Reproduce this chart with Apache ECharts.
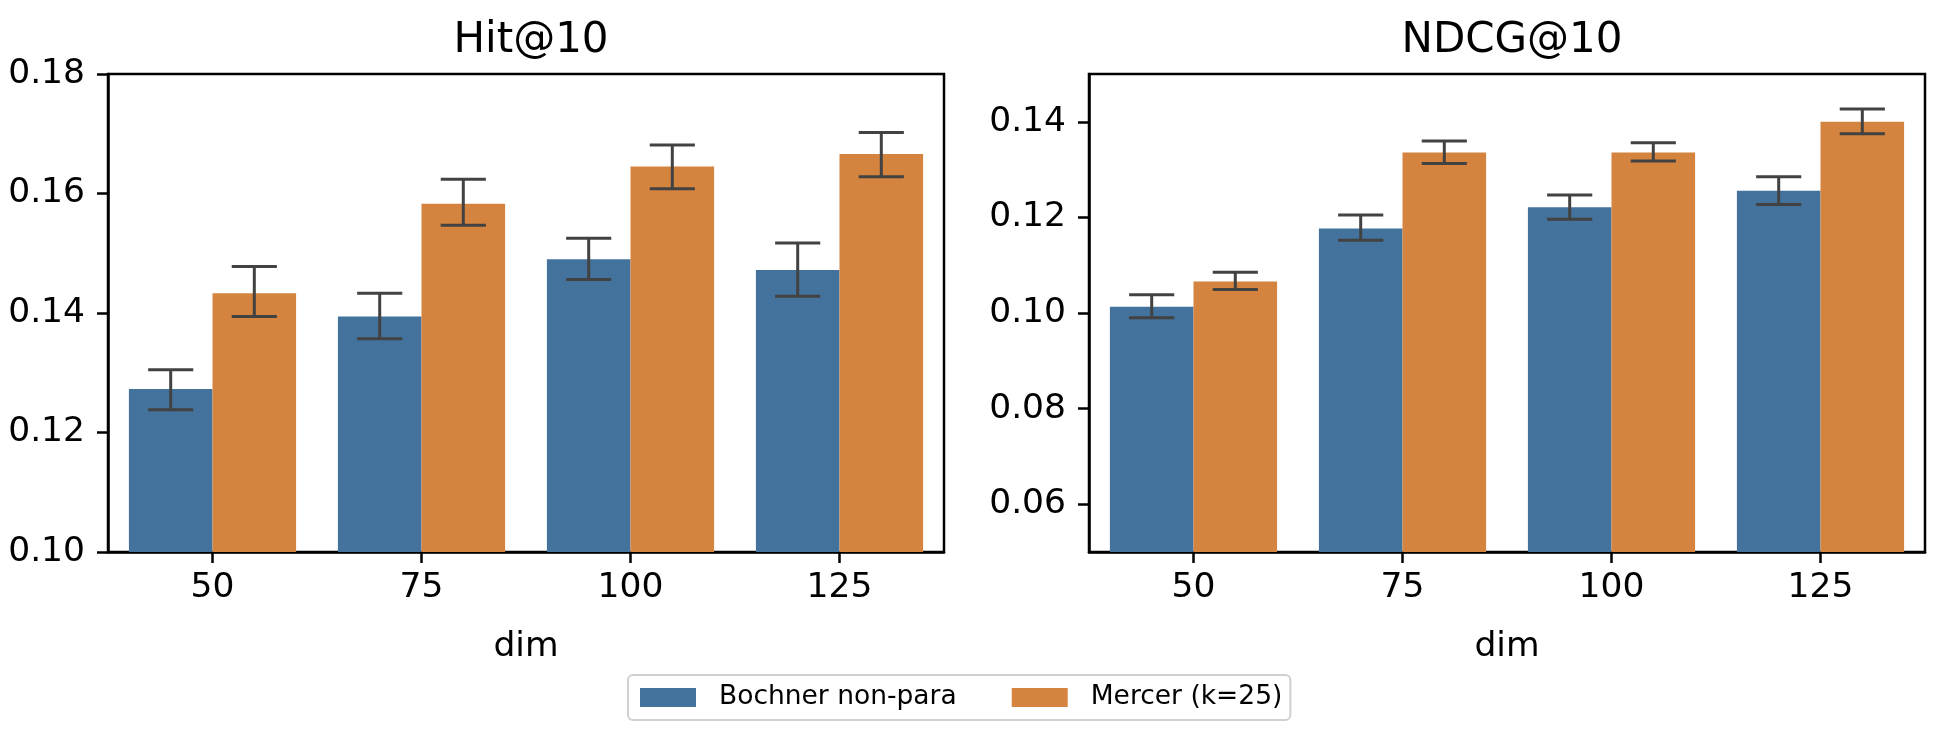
<!DOCTYPE html>
<html>
<head>
<meta charset="utf-8">
<script src="https://cdn.jsdelivr.net/npm/echarts@6/dist/echarts.min.js"></script>
<style>
  html, body { margin: 0; padding: 0; background: #fff; }
  #main { width: 1954px; height: 740px; }
</style>
</head>
<body>
<div id="main"></div>
<script>
// 数据
var dims = ['50', '75', '100', '125'];
var seriesNames = ['Bochner non-para', 'Mercer (k=25)'];

// Hit@10
var hitBochner   = [0.1273, 0.1394, 0.1490, 0.1472];
var hitBochnerLo = [0.1238, 0.1357, 0.1456, 0.1428];
var hitBochnerHi = [0.1305, 0.1433, 0.1525, 0.1517];
var hitMercer    = [0.1433, 0.1583, 0.1645, 0.1666];
var hitMercerLo  = [0.1394, 0.1547, 0.1608, 0.1628];
var hitMercerHi  = [0.1478, 0.1624, 0.1681, 0.1702];
var hitTicks = [0.10, 0.12, 0.14, 0.16, 0.18];

// NDCG@10
var ndcgBochner   = [0.1013, 0.1177, 0.1221, 0.1256];
var ndcgBochnerLo = [0.0990, 0.1152, 0.1196, 0.1227];
var ndcgBochnerHi = [0.1038, 0.1205, 0.1247, 0.1285];
var ndcgMercer    = [0.1066, 0.1336, 0.1336, 0.1400];
var ndcgMercerLo  = [0.1049, 0.1313, 0.1318, 0.1375];
var ndcgMercerHi  = [0.1085, 0.1360, 0.1356, 0.1427];
var ndcgTicks = [0.06, 0.08, 0.10, 0.12, 0.14];

var colors = ['#43729d', '#d4843f'];
var FONT = 'DejaVu Sans';
var TICK_SIZE = 34.5;

function errData(lo, hi) {
    var out = [];
    for (var i = 0; i < lo.length; i++) {
        out.push([i, lo[i], hi[i]]);
    }
    return out;
}

// 误差线: side = -1 左柱, 1 右柱
function errRender(side) {
    return function (params, api) {
        var band = api.size([1, 0])[0];
        var c = api.value(0);
        var pLo = api.coord([c, api.value(1)]);
        var pHi = api.coord([c, api.value(2)]);
        var x = pLo[0] + side * band * 0.2;
        var cap = band * 0.108;
        var style = { stroke: '#424242', lineWidth: 3 };
        return {
            type: 'group',
            children: [
                { type: 'line', shape: { x1: x, y1: pLo[1], x2: x, y2: pHi[1] }, style: style },
                { type: 'line', shape: { x1: x - cap, y1: pLo[1], x2: x + cap, y2: pLo[1] }, style: style },
                { type: 'line', shape: { x1: x - cap, y1: pHi[1], x2: x + cap, y2: pHi[1] }, style: style }
            ]
        };
    };
}

function xAx(idx) {
    return {
        type: 'category', gridIndex: idx, data: dims,
        name: 'dim', nameLocation: 'middle', nameGap: 78,
        nameTextStyle: { fontFamily: FONT, fontSize: TICK_SIZE, color: '#000' },
        axisLine: { show: true, lineStyle: { color: '#000', width: 2.5 } },
        axisTick: { show: true, alignWithLabel: true, length: 11, lineStyle: { color: '#000', width: 2.5 } },
        axisLabel: { fontFamily: FONT, fontSize: TICK_SIZE, color: '#000', margin: 19 },
        splitLine: { show: false }
    };
}

function yAx(idx, min, max, ticks) {
    return {
        type: 'value', gridIndex: idx, min: min, max: max,
        axisLine: { show: true, lineStyle: { color: '#000', width: 2.5 } },
        axisTick: { show: true, length: 11, customValues: ticks, lineStyle: { color: '#000', width: 2.5 } },
        axisLabel: {
            fontFamily: FONT, fontSize: TICK_SIZE, color: '#000', margin: 23, customValues: ticks,
            formatter: function (v) { return v.toFixed(2); }
        },
        splitLine: { show: false }
    };
}

function barSeries(name, idx, data, color) {
    return {
        name: name, type: 'bar', xAxisIndex: idx, yAxisIndex: idx,
        data: data, barWidth: '40%', barGap: '0%',
        itemStyle: { color: color },
        emphasis: { disabled: true }
    };
}

function errSeries(name, idx, lo, hi, side) {
    return {
        name: name, type: 'custom', xAxisIndex: idx, yAxisIndex: idx,
        renderItem: errRender(side), data: errData(lo, hi), z: 5,
        silent: true
    };
}

var option = {
    animation: false,
    backgroundColor: '#fff',
    title: [
        { text: 'Hit@10', left: 526, top: 15, textAlign: 'center',
          textStyle: { fontFamily: FONT, fontSize: 42, fontWeight: 'normal', color: '#000' } },
        { text: 'NDCG@10', left: 1507, top: 15, textAlign: 'center',
          textStyle: { fontFamily: FONT, fontSize: 42, fontWeight: 'normal', color: '#000' } }
    ],
    legend: {
        data: seriesNames,
        left: 628, top: 675,
        icon: 'rect', itemWidth: 56, itemHeight: 19, itemGap: 55,
        padding: [9, 8, 9, 12],
        borderColor: '#d0d0d0', borderWidth: 2, borderRadius: 5,
        textStyle: { fontFamily: FONT, fontSize: 26.5, color: '#000', padding: [0, 0, 0, 18] }
    },
    grid: [
        { left: 108, top: 74, width: 836, height: 478, show: true, borderColor: '#000', borderWidth: 2.5 },
        { left: 1089, top: 74, width: 836, height: 478, show: true, borderColor: '#000', borderWidth: 2.5 }
    ],
    xAxis: [xAx(0), xAx(1)],
    yAxis: [yAx(0, 0.10, 0.18, hitTicks), yAx(1, 0.05, 0.15, ndcgTicks)],
    series: [
        barSeries(seriesNames[0], 0, hitBochner, colors[0]),
        barSeries(seriesNames[1], 0, hitMercer, colors[1]),
        barSeries(seriesNames[0], 1, ndcgBochner, colors[0]),
        barSeries(seriesNames[1], 1, ndcgMercer, colors[1]),
        errSeries('errHitB', 0, hitBochnerLo, hitBochnerHi, -1),
        errSeries('errHitM', 0, hitMercerLo, hitMercerHi, 1),
        errSeries('errNdcgB', 1, ndcgBochnerLo, ndcgBochnerHi, -1),
        errSeries('errNdcgM', 1, ndcgMercerLo, ndcgMercerHi, 1)
    ]
};

var chart = echarts.init(document.getElementById('main'));
chart.setOption(option);
</script>
</body>
</html>
